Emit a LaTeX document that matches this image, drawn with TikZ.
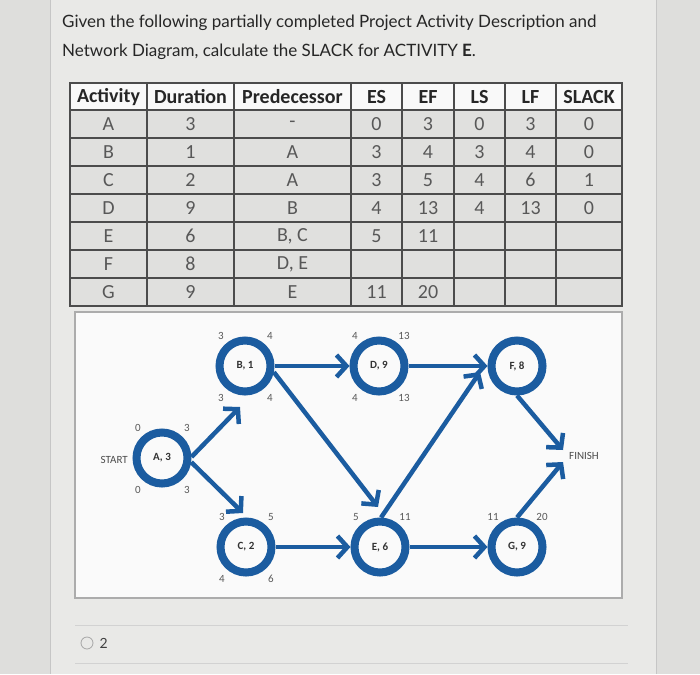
\documentclass[tikz,border=0pt]{standalone}
\usepackage{fontspec}
\setmainfont{Lato}
\newfontfamily\tabfont{Carlito}
\usetikzlibrary{arrows.meta,positioning,calc}
\definecolor{NetBlue}{RGB}{27,92,160}
\definecolor{PageGray}{RGB}{222,222,220}
\definecolor{PanelGray}{RGB}{233,233,231}
\definecolor{CellGray}{RGB}{224,224,222}
\definecolor{InkGray}{RGB}{88,88,88}

% early start / early finish above a circle, late start / late finish below
\newcommand{\tnums}[3]{%
  \node[num] (#1-es) at ($(#1)+(-24,-30)$) {#2};
  \node[num] (#1-ef) at ($(#1)+(25,-30)$) {#3};}
\newcommand{\bnums}[3]{%
  \node[num] (#1-ls) at ($(#1)+(-24,32)$) {#2};
  \node[num] (#1-lf) at ($(#1)+(25,32)$) {#3};}

\begin{document}
\begin{tikzpicture}[x=1pt,y=-1pt,
  act/.style={circle,draw=NetBlue,line width=8pt,minimum size=51pt,inner sep=0pt,font=\tabfont\bfseries\fontsize{11}{11}\selectfont,text=black!80},
  num/.style={font=\tabfont\fontsize{11}{11}\selectfont,text=InkGray,inner sep=0pt},
  endpt/.style={font=\tabfont\fontsize{11}{11}\selectfont,text=black!70,inner sep=0pt},
  arr/.style={-{Straight Barb[length=10pt,width=22pt]},line width=4.5pt,NetBlue},
  head/.style={font=\tabfont\bfseries\fontsize{20}{20}\selectfont,text=black!85,inner sep=0pt},
  cell/.style={font=\tabfont\fontsize{20}{20}\selectfont,text=InkGray,inner sep=0pt},
  tabline/.style={draw=black!70,line width=1.4pt}
]
  \useasboundingbox (0,0) rectangle (700,674);
  \fill[PageGray] (0,0) rectangle (700,674);
  \fill[PanelGray] (50,0) rectangle (656,674);
  \draw[gray!45,line width=1pt] (50,0) -- (50,674);
  \draw[gray!45,line width=1pt] (656,0) -- (656,674);

  % question
  \node[anchor=west,inner sep=0pt,font=\fontsize{17}{17}\selectfont,text=black!85] (q1) at (62,23)
    {Given the following partially completed Project Activity Description and};
  \node[anchor=west,inner sep=0pt,font=\fontsize{17}{17}\selectfont,text=black!85] (q2) at (62,52)
    {Network Diagram, calculate the SLACK for ACTIVITY \textbf{E}.};

  % table
  \fill[gray!5] (70,83) rectangle (622,110);
  \fill[CellGray] (70,110) rectangle (622,306);
  \foreach \x in {147,234,351,402,454,505,556}
    \draw[tabline] (\x,83) -- (\x,306);
  \foreach \y in {110,138,166,194,222,250,278}
    \draw[tabline] (70,\y) -- (622,\y);
  \draw[tabline,line width=2.4pt] (70,83) rectangle (622,306);
  \foreach \x/\t [count=\i] in {108.5/Activity,190.5/Duration,292.5/Predecessor,376.5/ES,428/EF,479.5/LS,530.5/LF,589/SLACK}
    \node[head] (hd\i) at (\x,97) {\t};
  \foreach \rw/\act/\dur/\pre/\es/\ef/\ls/\lf/\slk in {124/A/3/-/0/3/0/3/0,152/B/1/A/3/4/3/4/0,180/C/2/A/3/5/4/6/1,208/D/9/B/4/13/4/13/0,236/E/6/{B, C}/5/11/{}/{}/{},264/F/8/{D, E}/{}/{}/{}/{}/{},292/G/9/E/11/20/{}/{}/{}}{
    \node[cell] (r\act-act) at (108.5,\rw) {\act};
    \node[cell] (r\act-dur) at (190.5,\rw) {\dur};
    \node[cell] (r\act-pre) at (292.5,\rw) {\pre};
    \node[cell] (r\act-es) at (376.5,\rw) {\es};
    \node[cell] (r\act-ef) at (428,\rw) {\ef};
    \node[cell] (r\act-ls) at (479.5,\rw) {\ls};
    \node[cell] (r\act-lf) at (530.5,\rw) {\lf};
    \node[cell] (r\act-slk) at (589,\rw) {\slk};
  }

  % network
  \draw[gray!65,line width=1.2pt,fill=gray!4] (75,312) rectangle (622,598);
  \node[act] (A) at (162,458) {A, 3};
  \node[act] (B) at (245,366) {B, 1};
  \node[act] (C) at (246,547) {C, 2};
  \node[act] (D) at (379,366) {D, 9};
  \node[act] (E) at (380,547) {E, 6};
  \node[act] (F) at (517,366) {F, 8};
  \node[act] (G) at (517,547) {G, 9};
  \node[endpt,anchor=east] (start) at (128,460) {START};
  \node[endpt,anchor=west] (finish) at (569,456) {FINISH};

  \tnums{A}{0}{3} \bnums{A}{0}{3}
  \tnums{B}{3}{4} \bnums{B}{3}{4}
  \tnums{C}{3}{5} \bnums{C}{4}{6}
  \tnums{D}{4}{13} \bnums{D}{4}{13}
  \tnums{E}{5}{11}
  \tnums{G}{11}{20}

  \draw[arr] (A.2) -- ($(B)+(-5,41)$);
  \draw[arr] (A.-8) -- ($(C)+(-3,-34)$);
  \draw[arr] (B.east) -- (D.west);
  \draw[arr] (B.-12) -- ($(E)+(-2,-40)$);
  \draw[arr] (C.east) -- (E.west);
  \draw[arr] (D.east) -- (F.west);
  \draw[arr] (E.88) -- ($(F)+(-37,6)$);
  \draw[arr] (E.east) -- (G.west);
  \draw[arr] (F.south) -- ($(finish.west)+(-6,-6)$);
  \draw[arr] (G.north) -- ($(finish.west)+(-6,6)$);

  % answer choice
  \draw[gray!35] (75,625) -- (628,625);
  \draw[gray!35] (75,663) -- (628,663);
  \node[circle,draw=gray!70,line width=0.8pt,minimum size=12pt,inner sep=0pt] (opt) at (87,643) {};
  \node[right=6pt of opt,inner sep=0pt,font=\fontsize{14}{14}\selectfont,text=black!75] (optlbl) {2};
\end{tikzpicture}
\end{document}
